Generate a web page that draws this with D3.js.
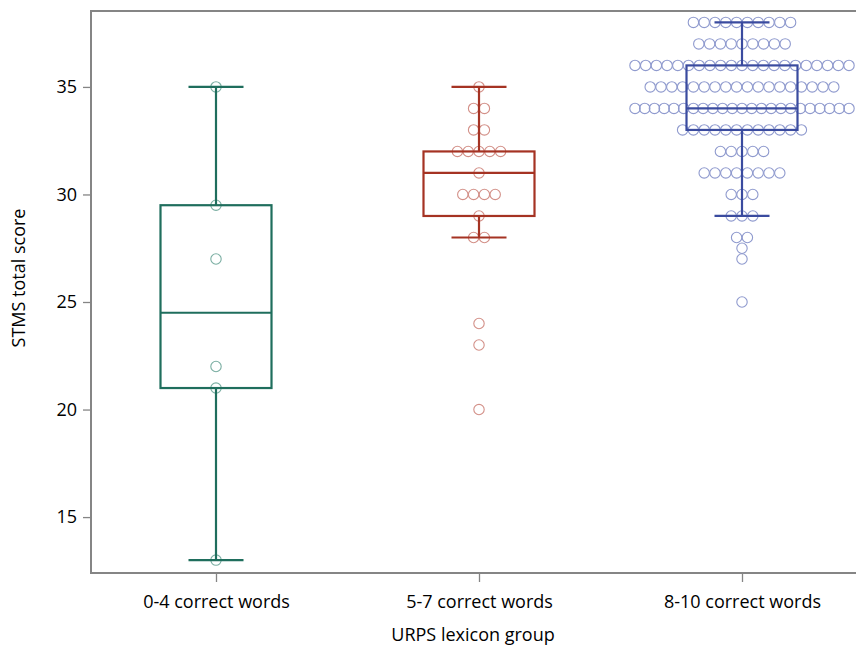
<!DOCTYPE html>
<html>
<head>
<meta charset="utf-8">
<script src="https://cdn.jsdelivr.net/npm/d3@7"></script>
<style>
  html, body { margin: 0; padding: 0; background: #fff; }
  svg { display: block; }
  text { font-family: "Open Sans", "Noto Sans", sans-serif; fill: #000; }
</style>
</head>
<body>
<svg id="chart" width="856" height="647"></svg>
<script>
// ---------- data ----------
const categories = ["0-4 correct words", "5-7 correct words", "8-10 correct words"];
const whiskerLow  = [13, 28, 29];
const boxQ1       = [21, 29, 33];
const boxMedian   = [24.5, 31, 34];
const boxQ3       = [29.5, 32, 36];
const whiskerHigh = [35, 35, 38];

// observed scores: [score, number of children]
const points04 = [[35, 1], [29.5, 1], [27, 1], [22, 1], [21, 1], [13, 1]];
const points57 = [[35, 1], [34, 2], [33, 2], [32, 5], [31, 1], [30, 4], [29, 1], [28, 2], [24, 1], [23, 1], [20, 1]];
const points810 = [[38, 10], [37, 9], [36, 21], [35, 18], [34, 23], [33, 12], [32, 5], [31, 8], [30, 3], [29, 3], [28, 2], [27.5, 1], [27, 1], [25, 1]];
const groupPoints = [points04, points57, points810];

const yTicks = [15, 20, 25, 30, 35];
const yDomain = [12.4, 38.53];

const lineColors = ["#1f6e5d", "#a53323", "#3a4b9f"];
const dotColors  = ["#7aaea2", "#d39088", "#8f9ace"];

// ---------- layout ----------
const svg = d3.select("#chart");
const frame = { left: 91, top: 11, right: 867, bottom: 573 };

const x = d3.scalePoint().domain(categories).range([216, 742]);
const y = d3.scaleLinear().domain(yDomain).range([frame.bottom, frame.top]);

const boxHalf = 55.5, capHalf = 27.5, dotR = 5.2, dotStep = 10.8, maxSpan = 214;

// dots
categories.forEach((cat, gi) => {
  const cx = x(cat);
  const dots = [];
  groupPoints[gi].forEach(([v, n]) => {
    const step = n > 1 ? Math.min(dotStep, maxSpan / (n - 1)) : 0;
    for (let i = 0; i < n; i++) {
      dots.push({ x: cx + (i - (n - 1) / 2) * step, v });
    }
  });
  svg.append("g").selectAll("circle").data(dots).join("circle")
    .attr("cx", d => d.x)
    .attr("cy", d => y(d.v))
    .attr("r", dotR)
    .attr("fill", "none")
    .attr("stroke", dotColors[gi])
    .attr("stroke-width", 1.1);
});

// boxes
categories.forEach((cat, gi) => {
  const cx = x(cat);
  const g = svg.append("g")
    .attr("stroke", lineColors[gi])
    .attr("stroke-width", 2.2)
    .attr("fill", "none");
  g.append("line").attr("x1", cx).attr("x2", cx).attr("y1", y(boxQ3[gi])).attr("y2", y(whiskerHigh[gi]));
  g.append("line").attr("x1", cx).attr("x2", cx).attr("y1", y(boxQ1[gi])).attr("y2", y(whiskerLow[gi]));
  g.append("line").attr("x1", cx - capHalf).attr("x2", cx + capHalf).attr("y1", y(whiskerHigh[gi])).attr("y2", y(whiskerHigh[gi]));
  g.append("line").attr("x1", cx - capHalf).attr("x2", cx + capHalf).attr("y1", y(whiskerLow[gi])).attr("y2", y(whiskerLow[gi]));
  g.append("rect")
    .attr("x", cx - boxHalf).attr("width", boxHalf * 2)
    .attr("y", y(boxQ3[gi])).attr("height", y(boxQ1[gi]) - y(boxQ3[gi]));
  g.append("line").attr("x1", cx - boxHalf).attr("x2", cx + boxHalf).attr("y1", y(boxMedian[gi])).attr("y2", y(boxMedian[gi]));
});

// frame
svg.append("rect")
  .attr("x", frame.left).attr("y", frame.top)
  .attr("width", frame.right - frame.left).attr("height", frame.bottom - frame.top)
  .attr("fill", "none").attr("stroke", "#858585").attr("stroke-width", 2);

// axes
const yAxis = d3.axisLeft(y).tickValues(yTicks).tickSize(7).tickPadding(6);
const gy = svg.append("g").attr("transform", `translate(${frame.left - 1},0)`).call(yAxis);
gy.select(".domain").remove();
gy.selectAll(".tick line").attr("stroke", "#858585").attr("stroke-width", 1.3);
gy.selectAll(".tick text").style("font-size", "18px").style("font-family", "'Open Sans', sans-serif").attr("fill", "#000");

const xAxis = d3.axisBottom(x).tickSize(8).tickPadding(13);
const gx = svg.append("g").attr("transform", `translate(0,${frame.bottom + 1})`).call(xAxis);
gx.select(".domain").remove();
gx.selectAll(".tick line").attr("stroke", "#858585").attr("stroke-width", 1.3);
gx.selectAll(".tick text").style("font-size", "18px").style("font-family", "'Open Sans', sans-serif").attr("fill", "#000");

// titles
svg.append("text")
  .attr("x", 473).attr("y", 641)
  .attr("text-anchor", "middle")
  .style("font-size", "18px")
  .text("URPS lexicon group");

svg.append("text")
  .attr("transform", "translate(25,278) rotate(-90)")
  .attr("text-anchor", "middle")
  .style("font-size", "18px")
  .text("STMS total score");
</script>
</body>
</html>
